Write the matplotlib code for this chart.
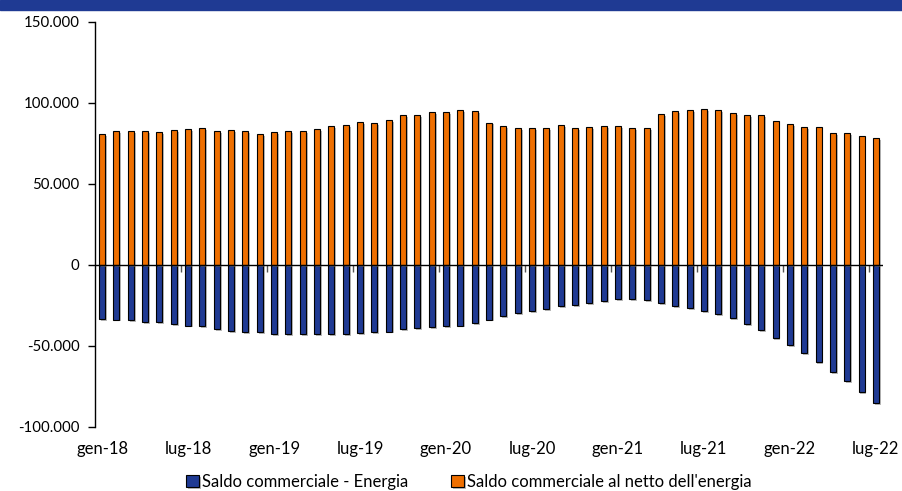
import matplotlib.pyplot as plt
import matplotlib.patheffects as pe
from matplotlib.patches import Rectangle
from matplotlib.ticker import FuncFormatter
import numpy as np

plt.rcParams['font.family'] = ['Lato', 'DejaVu Sans']

# months gen-18 .. lug-22
mesi = ['gen', 'feb', 'mar', 'apr', 'mag', 'giu', 'lug', 'ago', 'set', 'ott', 'nov', 'dic']
periodi = [f'{m}-{a}' for a in ['18', '19', '20', '21', '22'] for m in mesi][:55]

# Saldo commerciale - Energia (milioni di euro)
energia = [-33.3, -33.7, -34.3, -35.1, -35.3, -36.2, -37.4, -38.0, -39.3, -40.7,
           -41.3, -41.7, -42.4, -42.4, -42.4, -42.8, -42.8, -42.4, -42.1, -41.7,
           -41.1, -39.7, -38.8, -38.2, -38.0, -37.4, -35.7, -33.7, -31.4, -29.8,
           -28.3, -27.1, -25.6, -24.8, -23.6, -22.5, -21.3, -21.3, -21.9, -23.6,
           -25.6, -26.7, -28.3, -30.4, -32.6, -36.4, -40.1, -45.2, -49.6, -54.5,
           -59.7, -66.1, -71.5, -78.3, -85.5]
# Saldo commerciale al netto dell'energia
netto = [80.9, 82.3, 82.3, 82.3, 81.7, 83.3, 83.9, 84.4, 82.3, 83.1,
         82.5, 80.9, 81.9, 82.5, 82.5, 83.7, 85.8, 86.2, 88.1, 87.7,
         89.1, 92.4, 92.6, 94.0, 94.0, 95.3, 94.9, 87.8, 85.6, 84.6,
         84.6, 84.2, 86.0, 84.2, 84.8, 85.6, 85.4, 84.2, 84.6, 93.2,
         94.9, 95.5, 96.3, 95.3, 93.6, 92.6, 92.4, 88.9, 86.6, 85.0,
         85.0, 81.5, 81.1, 79.8, 78.4]
energia = np.array(energia) * 1000
netto = np.array(netto) * 1000

col_blu = '#1F3A93'
col_arancio = '#EE6F00'

fig = plt.figure(figsize=(9.03, 4.91), dpi=100)
ax = fig.add_axes([95 / 903, 1 - 427 / 491, 788 / 903, 405.3 / 491])

# banner on top
fig.patches.append(Rectangle((0, 1 - 10 / 491), 1, 10 / 491, transform=fig.transFigure,
                             color=col_blu, zorder=0))

x = np.arange(len(periodi))
ombra = [pe.SimplePatchShadow(offset=(1.4, -1.4), shadow_rgbFace='#808080', alpha=0.55), pe.Normal()]
b1 = ax.bar(x, energia, width=0.42, color=col_blu, edgecolor='black', linewidth=0.8,
            label='Saldo commerciale - Energia', zorder=2)
b2 = ax.bar(x, netto, width=0.42, color=col_arancio, edgecolor='black', linewidth=0.8,
            label="Saldo commerciale al netto dell'energia", zorder=2)
for b in list(b1) + list(b2):
    b.set_path_effects(ombra)

ax.set_xlim(-0.5, len(periodi) - 0.5)
ax.set_ylim(-100000, 150000)
ax.set_yticks(np.arange(-100000, 150001, 50000))
ax.yaxis.set_major_formatter(FuncFormatter(lambda v, p: f'{v:,.0f}'.replace(',', '.')))

for s in ['top', 'right', 'bottom']:
    ax.spines[s].set_visible(False)
ax.spines['left'].set_linewidth(1.0)
ax.axhline(0, color='black', linewidth=1.0, zorder=3)

ax.tick_params(axis='y', direction='out', length=5, width=1, pad=6, labelsize=10.8)
ax.set_xticks(x[::6])
ax.set_xticklabels(periodi[::6])
ax.tick_params(axis='x', length=0, pad=10, labelsize=12)

# small tick marks on the zero line between semesters
sec = ax.secondary_xaxis(0.4)
sec.set_xticks(np.arange(5.5, len(periodi), 6))
sec.set_xticklabels([])
sec.tick_params(direction='out', length=5, width=1, color='#555555')
sec.spines['bottom'].set_visible(False)

fig.legend(handles=[b1, b2], loc='center', bbox_to_anchor=(469 / 903, 1 - 482 / 491),
           ncol=2, frameon=False, fontsize=12, handlelength=0.75, handleheight=0.75,
           handletextpad=0.2, columnspacing=2.6, borderpad=0.2)

fig.savefig('out.png', dpi=100)
